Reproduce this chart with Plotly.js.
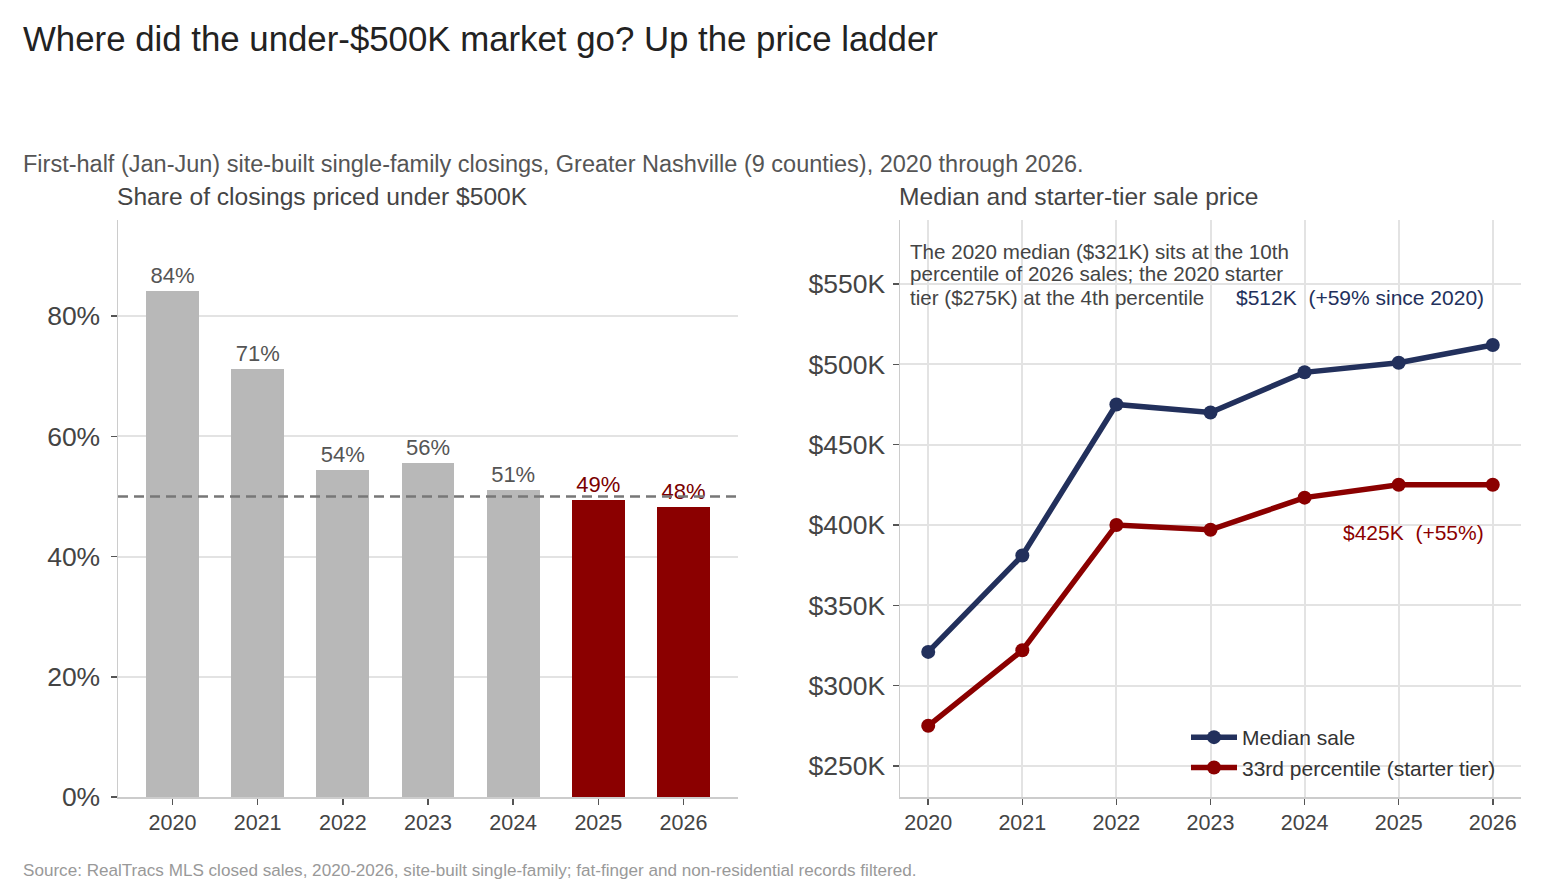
<!DOCTYPE html>
<html>
<head>
<meta charset="utf-8">
<script src="https://cdn.plot.ly/plotly-3.0.1.min.js"></script>
<style>html,body{margin:0;padding:0;background:#fff;}#chart{width:1568px;height:896px;}</style>
</head>
<body>
<div id="chart"></div>
<script>
// ---- data ----
const years = ['2020','2021','2022','2023','2024','2025','2026'];
const yearNums = [2020, 2021, 2022, 2023, 2024, 2025, 2026];
const shareUnder500 = [84.2, 71.2, 54.4, 55.6, 51.1, 49.4, 48.2];
const shareLabels = ['84%','71%','54%','56%','51%','49%','48%'];
const medianPriceK = [321, 381, 475, 470, 495, 501, 512];
const starterPriceK = [275, 322, 400, 397, 417, 425, 425];
const priceTicks = [250, 300, 350, 400, 450, 500, 550];
const priceTickText = ['$250K','$300K','$350K','$400K','$450K','$500K','$550K'];
const shareTicks = [0, 20, 40, 60, 80];
const shareTickText = ['0%','20%','40%','60%','80%'];
const threshold = 50;

// ---- style ----
const W = 1568, H = 896;
const FONT = 'Liberation Sans, Arial, Helvetica, sans-serif';
const GRAY = '#b8b8b8', RED = '#8b0000', NAVY = '#22305c';
const px = x => x / W;
const py = y => 1 - y / H;

const barColors = shareUnder500.map(v => v < threshold ? RED : GRAY);
const barTextColors = shareUnder500.map(v => v < threshold ? '#7a0000' : '#555555');

const traces = [
  {
    type: 'bar', x: years, y: shareUnder500, xaxis: 'x', yaxis: 'y',
    marker: {color: barColors}, width: 0.62,
    text: shareLabels, textposition: 'outside', cliponaxis: false,
    textfont: {family: FONT, size: 22, color: barTextColors},
    showlegend: false, hoverinfo: 'skip'
  },
  {
    type: 'scatter', mode: 'lines+markers', name: 'Median sale',
    x: yearNums, y: medianPriceK, xaxis: 'x2', yaxis: 'y2',
    line: {color: NAVY, width: 5.5}, marker: {color: NAVY, size: 14}
  },
  {
    type: 'scatter', mode: 'lines+markers', name: '33rd percentile (starter tier)',
    x: yearNums, y: starterPriceK, xaxis: 'x2', yaxis: 'y2',
    line: {color: RED, width: 5.5}, marker: {color: RED, size: 14}
  }
];

const axisCommon = {
  showline: true, linecolor: '#cccccc', linewidth: 1.5,
  ticks: 'outside', ticklen: 6, tickwidth: 1.5, tickcolor: '#555555',
  zeroline: false, fixedrange: true
};

const layout = {
  width: W, height: H,
  margin: {l: 0, r: 0, t: 0, b: 0},
  paper_bgcolor: '#ffffff', plot_bgcolor: '#ffffff',
  font: {family: FONT, color: '#444444'},
  xaxis: Object.assign({}, axisCommon, {
    domain: [px(118), px(738)], anchor: 'y', type: 'category',
    range: [-0.64, 6.64], showgrid: false,
    tickfont: {family: FONT, size: 21.5, color: '#444'}, ticklabelstandoff: 0
  }),
  yaxis: Object.assign({}, axisCommon, {
    domain: [py(797), py(220)], anchor: 'x',
    range: [0, 96], tickmode: 'array', tickvals: shareTicks, ticktext: shareTickText,
    showgrid: true, gridcolor: '#e3e3e3', gridwidth: 2,
    tickfont: {family: FONT, size: 26.5, color: '#444'}, ticklabelstandoff: 5
  }),
  xaxis2: Object.assign({}, axisCommon, {
    domain: [px(900), px(1521)], anchor: 'y2',
    range: [2019.7, 2026.3], tickmode: 'array', tickvals: yearNums, ticktext: years,
    showgrid: true, gridcolor: '#e3e3e3', gridwidth: 2,
    tickfont: {family: FONT, size: 21.5, color: '#444'}, ticklabelstandoff: 0
  }),
  yaxis2: Object.assign({}, axisCommon, {
    domain: [py(797), py(220)], anchor: 'x2',
    range: [230.7, 589.8], tickmode: 'array', tickvals: priceTicks, ticktext: priceTickText,
    showgrid: true, gridcolor: '#e3e3e3', gridwidth: 2,
    tickfont: {family: FONT, size: 26.5, color: '#444'}, ticklabelstandoff: 2
  }),
  bargap: 0,
  showlegend: true,
  legend: {
    x: px(1186), y: py(717), xanchor: 'left', yanchor: 'top',
    bgcolor: 'rgba(0,0,0,0)', font: {family: FONT, size: 21, color: '#333'},
    tracegroupgap: 0, itemwidth: 46
  },
  shapes: [
    {type: 'line', xref: 'x domain', yref: 'y', x0: 0, x1: 1, y0: threshold, y1: threshold,
     line: {color: '#777777', width: 2.5, dash: '10px,6px'}, layer: 'above'}
  ],
  annotations: [
    {text: 'Where did the under-$500K market go? Up the price ladder', xref: 'paper', yref: 'paper',
     x: px(21), y: py(38), xanchor: 'left', yanchor: 'middle', showarrow: false,
     font: {family: FONT, size: 34.8, color: '#222'}},
    {text: 'First-half (Jan-Jun) site-built single-family closings, Greater Nashville (9 counties), 2020 through 2026.',
     xref: 'paper', yref: 'paper', x: px(21), y: py(164), xanchor: 'left', yanchor: 'middle', showarrow: false,
     font: {family: FONT, size: 23.5, color: '#555'}},
    {text: 'Share of closings priced under $500K', xref: 'paper', yref: 'paper',
     x: px(115), y: py(197), xanchor: 'left', yanchor: 'middle', showarrow: false,
     font: {family: FONT, size: 24.6, color: '#444'}},
    {text: 'Median and starter-tier sale price', xref: 'paper', yref: 'paper',
     x: px(897), y: py(197), xanchor: 'left', yanchor: 'middle', showarrow: false,
     font: {family: FONT, size: 24.6, color: '#444'}},
    {text: 'The 2020 median ($321K) sits at the 10th', xref: 'paper', yref: 'paper',
     x: px(908), y: py(251), xanchor: 'left', yanchor: 'middle', showarrow: false,
     font: {family: FONT, size: 20.6, color: '#444'}},
    {text: 'percentile of 2026 sales; the 2020 starter', xref: 'paper', yref: 'paper',
     x: px(908), y: py(273), xanchor: 'left', yanchor: 'middle', showarrow: false,
     font: {family: FONT, size: 20.6, color: '#444'}},
    {text: 'tier ($275K) at the 4th percentile', xref: 'paper', yref: 'paper',
     x: px(908), y: py(297), xanchor: 'left', yanchor: 'middle', showarrow: false,
     font: {family: FONT, size: 20.6, color: '#444'}},
    {text: '$512K\u00a0\u00a0(+59% since 2020)', xref: 'paper', yref: 'paper',
     x: px(1486), y: py(297), xanchor: 'right', yanchor: 'middle', showarrow: false,
     font: {family: FONT, size: 21, color: NAVY}},
    {text: '$425K\u00a0\u00a0(+55%)', xref: 'paper', yref: 'paper',
     x: px(1486), y: py(532), xanchor: 'right', yanchor: 'middle', showarrow: false,
     font: {family: FONT, size: 21, color: RED}},
    {text: 'Source: RealTracs MLS closed sales, 2020-2026, site-built single-family; fat-finger and non-residential records filtered.',
     xref: 'paper', yref: 'paper', x: px(21), y: py(870), xanchor: 'left', yanchor: 'middle', showarrow: false,
     font: {family: FONT, size: 17.1, color: '#999'}}
  ]
};

Plotly.newPlot('chart', traces, layout, {displayModeBar: false, staticPlot: true});
</script>
</body>
</html>
